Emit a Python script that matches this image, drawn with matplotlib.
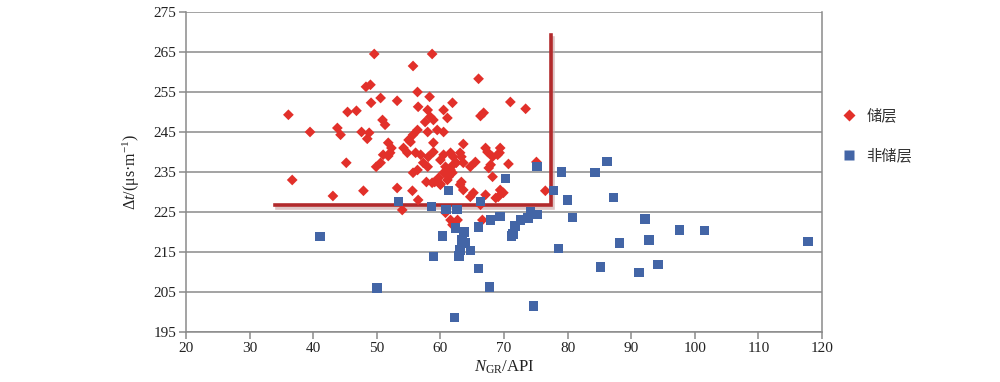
import matplotlib
matplotlib.use("Agg")
import matplotlib.pyplot as plt
import matplotlib.patheffects as pe
from matplotlib.lines import Line2D

# ---------------- data ----------------
reservoir_gr = [36.1, 36.7, 39.5, 43.1, 43.8, 44.3, 45.2, 45.4, 46.8, 47.6, 47.9, 48.3, 49.0, 49.6,
                49.1, 48.8, 48.5, 50.6, 50.9, 51.3, 51.8, 52.3, 49.9, 50.6, 51.0, 51.8, 52.1, 53.2,
                53.2, 54.0, 55.6, 56.5, 54.2, 54.8, 55.0, 55.3, 55.7, 56.4, 55.7, 56.4, 58.3, 56.5,
                58.0, 58.4, 57.6, 58.9, 60.5, 61.1, 61.9, 58.0, 59.5, 60.5, 58.9, 63.6, 58.7, 56.1,
                56.9, 58.1, 58.9, 57.3, 56.4, 55.7, 58.0, 60.0, 60.8, 60.5, 61.1, 60.0, 59.1, 61.6,
                60.5, 61.6, 62.0, 62.5, 63.3, 63.1, 62.0, 63.6, 64.7, 65.5, 67.1, 67.4, 68.2, 69.0,
                69.4, 69.3, 70.7, 67.9, 67.6, 66.0, 66.8, 66.3, 71.0, 73.4, 75.1, 76.5, 63.3, 63.1,
                63.6, 61.9, 61.3, 57.8, 58.7, 59.7, 60.0, 68.2, 69.4, 69.9, 69.1, 68.7, 65.2, 64.7,
                67.1, 66.3, 60.8, 61.6, 62.7, 61.9, 66.6]
reservoir_dt = [249.3, 233.0, 245.0, 229.0, 246.0, 244.3, 237.3, 250.0, 250.3, 245.0, 230.3, 256.3, 256.8, 264.5,
                252.3, 244.8, 243.3, 253.5, 248.0, 246.8, 242.3, 241.0, 236.3, 237.3, 239.3, 239.0, 239.8, 252.8,
                231.0, 225.5, 230.3, 228.0, 241.0, 239.8, 243.0, 242.5, 244.3, 245.5, 261.5, 255.0, 253.8, 251.3,
                250.5, 248.8, 247.5, 248.0, 250.5, 248.5, 252.3, 245.0, 245.5, 245.0, 242.3, 242.0, 264.5, 239.8,
                239.3, 238.8, 240.0, 237.3, 235.5, 234.8, 236.3, 238.0, 236.3, 234.8, 233.0, 232.0, 232.5, 235.5,
                239.3, 239.8, 238.8, 237.3, 238.8, 239.8, 236.8, 237.3, 236.3, 237.5, 241.0, 240.0, 238.8, 239.3,
                241.0, 239.8, 237.0, 236.8, 236.0, 258.3, 249.8, 249.0, 252.5, 250.8, 237.5, 230.3, 232.5, 231.8,
                230.5, 234.8, 233.8, 232.5, 232.3, 233.5, 231.8, 233.8, 230.5, 229.8, 228.8, 228.5, 229.8, 228.8,
                229.3, 226.8, 224.8, 223.0, 223.0, 221.8, 223.0]

nonres_gr = [41.1, 50.0, 53.4, 62.2, 74.6, 67.7, 66.0, 58.9, 60.3, 61.3, 58.6, 60.9, 62.6, 62.4,
             63.7, 63.4, 63.9, 63.1, 62.9, 64.7, 66.3, 66.0, 67.9, 69.4, 70.2, 71.4, 71.7, 72.6,
             73.8, 74.2, 75.2, 75.2, 77.8, 79.0, 80.0, 80.8, 78.6, 84.3, 86.2, 87.2, 88.2, 85.2,
             91.2, 92.2, 92.8, 94.2, 97.6, 101.5, 117.8, 71.2]
nonres_dt = [218.8, 206.0, 227.6, 198.6, 201.5, 206.2, 210.8, 213.8, 219.0, 230.3, 226.3, 225.6, 225.6, 221.0,
             220.0, 218.0, 217.2, 215.5, 214.0, 215.3, 227.6, 221.2, 223.0, 223.8, 233.3, 219.5, 221.5, 223.0,
             223.5, 225.0, 224.3, 236.3, 230.3, 235.0, 228.0, 223.6, 215.8, 234.8, 237.6, 228.6, 217.2, 211.2,
             209.9, 223.2, 218.0, 211.8, 220.5, 220.3, 217.6, 219.0]

# cutoff boundary (GR, Δt)
cut_gr = [34.0, 77.4, 77.4]
cut_dt = [226.7, 226.7, 269.3]

legend_labels = ["储层", "非储层"]
x_ticks = list(range(20, 121, 10))
y_ticks = list(range(195, 276, 10))

# ---------------- plot ----------------
plt.rcParams['font.family'] = ['Liberation Serif', 'Noto Sans CJK SC', 'DejaVu Sans']
plt.rcParams['mathtext.fontset'] = 'custom'
plt.rcParams['mathtext.rm'] = 'Liberation Serif'
plt.rcParams['mathtext.it'] = 'Liberation Serif:italic'

fig = plt.figure(figsize=(10, 3.82), dpi=100)
ax = fig.add_axes([0.186, 0.131, 0.636, 0.8376])

grid_c = '#8a8a8a'
for yv in y_ticks:
    ax.axhline(yv, color=grid_c, lw=1.1, zorder=1)

red = '#e2302a'
blue = '#4365a6'
line_c = '#b22a2c'

ax.plot(cut_gr, cut_dt, color=line_c, lw=2.6, zorder=2, solid_joinstyle='miter',
        path_effects=[pe.SimpleLineShadow(offset=(1.5, -2), shadow_color='#c8a0a0', alpha=0.6),
                      pe.Normal()])

ax.scatter(reservoir_gr, reservoir_dt, marker='D', s=30, c=red, edgecolors='none', zorder=3)
ax.scatter(nonres_gr, nonres_dt, marker='s', s=46, c=blue, edgecolors='none', zorder=4)

ax.set_xlim(20, 120)
ax.set_ylim(195, 275)
ax.set_xticks(x_ticks)
ax.set_yticks(y_ticks)
ax.tick_params(axis='both', direction='out', length=5, width=1.1, color=grid_c,
               labelsize=11, pad=2, labelcolor='#222222')

for s in ['left', 'right', 'bottom']:
    ax.spines[s].set_color(grid_c)
    ax.spines[s].set_linewidth(1.1)
ax.spines['top'].set_visible(False)

ax.set_xlabel(r'$\mathit{N}_{\mathrm{GR}}$/API', fontsize=12, labelpad=3, color='#222222')
ax.set_ylabel(r'$\Delta\mathit{t}$/(μs·m$^{-1}$)', fontsize=11.5, labelpad=8, color='#222222')

handles = [Line2D([], [], ls='none', marker='D', ms=6, color=red, mec='none'),
           Line2D([], [], ls='none', marker='s', ms=7, color=blue, mec='none')]
fig.legend(handles, legend_labels, loc='upper left', bbox_to_anchor=(0.828, 0.755),
           frameon=False, prop={'family': ['Noto Sans CJK SC'], 'size': 11},
           labelspacing=1.5, handletextpad=0.6, handlelength=1.0, labelcolor='#333333')

fig.savefig('out.png', dpi=100)
